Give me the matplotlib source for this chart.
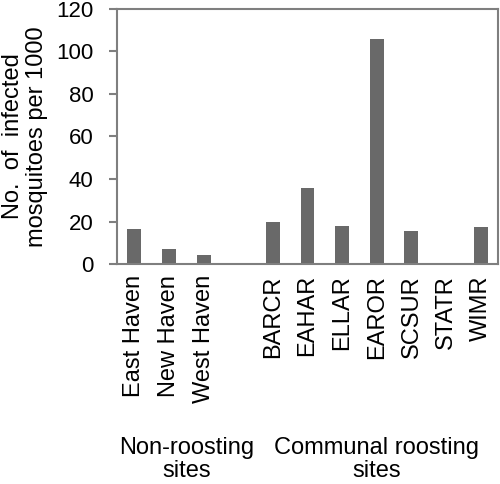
import matplotlib
matplotlib.use("Agg")
import matplotlib.pyplot as plt

plt.rcParams['font.family'] = ['Liberation Sans', 'DejaVu Sans']

sites = ["East Haven", "New Haven", "West Haven",
         "BARCR", "EAHAR", "ELLAR", "EAROR", "SCSUR", "STATR", "WIMR"]
values = [16.6, 6.9, 4.4, 19.8, 35.9, 17.7, 105.9, 15.4, 0, 17.3]
groups = ["Non-roosting\nsites", "Communal roosting\nsites"]
ylabel = "No.  of  infected\nmosquitoes per 1000"

# leave an empty slot between the two groups
pos = [0, 1, 2, 4, 5, 6, 7, 8, 9, 10]

fig = plt.figure(figsize=(5, 4.84), dpi=100)
ax = fig.add_axes([0.234, 0.4545, 0.762, 0.527])

ax.bar(pos, values, width=0.4, color='#696969')
ax.set_xlim(-0.5, 10.5)
ax.set_ylim(0, 120)
ax.set_yticks(range(0, 121, 20))
ax.set_xticks(pos)
ax.set_xticklabels(sites, rotation=90, fontsize=17)
ax.tick_params(axis='x', length=0, pad=8)
ax.tick_params(axis='y', labelsize=16, length=6, color='#7f7f7f', width=1.5, pad=11)
for s in ax.spines.values():
    s.set_color('#7f7f7f')
    s.set_linewidth(1.5)

# y label placed by hand so both lines stay inside the figure
fig.text(0.05, 0.718, ylabel, rotation=90, ha='center', va='center',
         fontsize=17, linespacing=1.1)

ax.text(1.5, -0.68, groups[0], transform=ax.get_xaxis_transform(), ha='center', va='top',
        fontsize=17, linespacing=1.05)
ax.text(7.0, -0.68, groups[1], transform=ax.get_xaxis_transform(), ha='center', va='top',
        fontsize=17, linespacing=1.05)

fig.savefig("out.png", dpi=100)
